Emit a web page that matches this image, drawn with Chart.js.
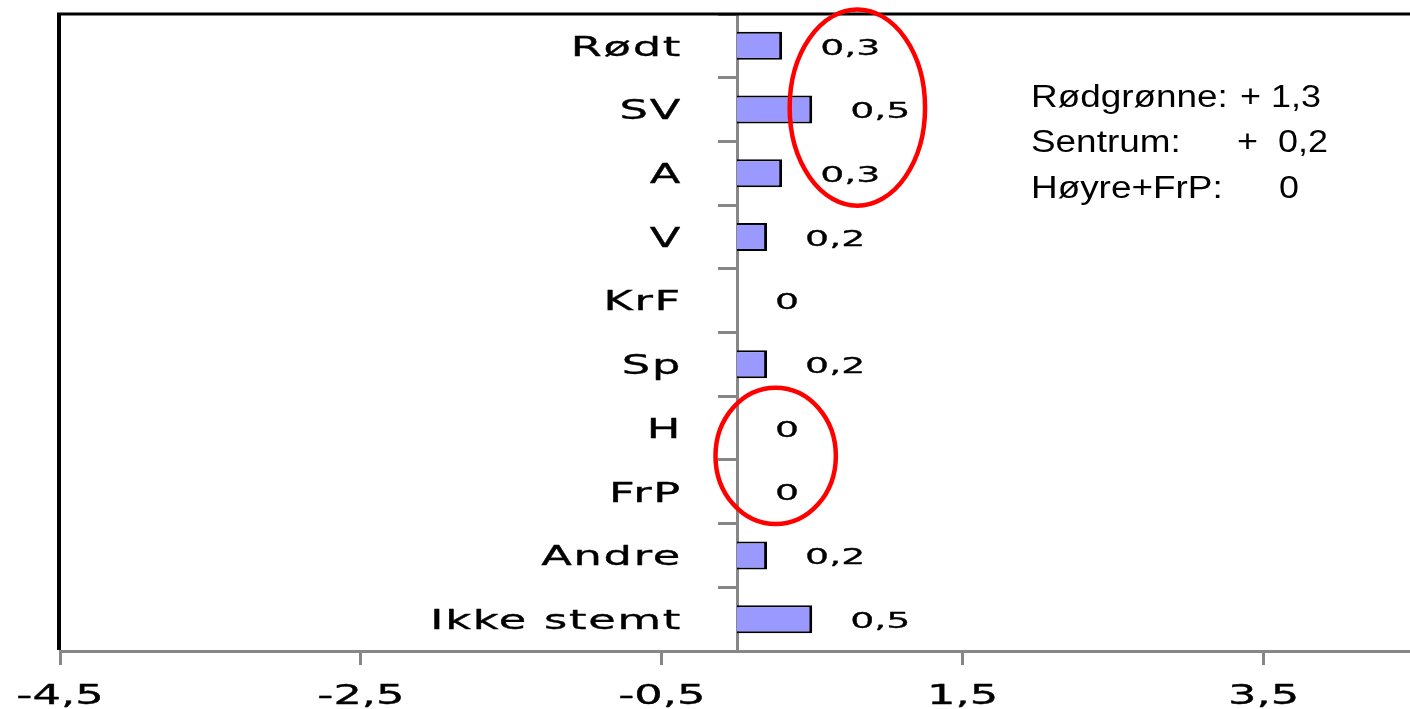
<!DOCTYPE html>
<html><head><meta charset="utf-8">
<script src="https://cdn.jsdelivr.net/npm/chart.js@4/dist/chart.umd.min.js"></script>
<style>html,body{margin:0;padding:0;background:#fff;overflow:hidden;}#wrap{position:relative;width:1416px;height:709px;}</style>
</head><body><div id="wrap"><canvas id="c"></canvas></div>
<script>
const categories = ['Rødt', 'SV', 'A', 'V', 'KrF', 'Sp', 'H', 'FrP', 'Andre', 'Ikke stemt'];
const values = [0.3, 0.5, 0.3, 0.2, 0, 0.2, 0, 0, 0.2, 0.5];
const xTicks = [-4.5, -2.5, -0.5, 1.5, 3.5];
const xMin = -4.5;
const xMax = 4.5;
const noteLabels = ['Rødgrønne:', 'Sentrum:', 'Høyre+FrP:'];
const noteValues = ['+ 1,3', '+  0,2', '0'];

const fmt = v => String(v).replace('.', ',');
const WIDE = '"DejaVu Sans", Verdana, sans-serif';
const GRAY = '#878787';

function stretchText(ctx, text, x, y, align, sx, font, baseline, spacing, weight) {
  ctx.save();
  ctx.translate(x, y);
  ctx.scale(sx, 1);
  ctx.font = font;
  ctx.textAlign = align;
  ctx.textBaseline = baseline || 'middle';
  ctx.fillStyle = '#000';
  if (spacing) ctx.letterSpacing = spacing + 'px';
  ctx.fillText(text, 0, 0);
  if (weight) {
    ctx.strokeStyle = '#000';
    ctx.lineWidth = weight;
    ctx.lineJoin = 'round';
    ctx.strokeText(text, 0, 0);
  }
  ctx.restore();
}

const decor = {
  id: 'decor',
  afterDraw(chart) {
    const {ctx, chartArea: a, scales: {x, y}} = chart;
    const zero = x.getPixelForValue(0);
    ctx.save();
    ctx.strokeStyle = '#000';
    ctx.lineWidth = 4;
    ctx.beginPath(); ctx.moveTo(a.left - 1, a.top - 1); ctx.lineTo(a.left - 1, a.bottom - 1); ctx.stroke();
    ctx.lineWidth = 3;
    ctx.beginPath(); ctx.moveTo(a.left - 3, a.top); ctx.lineTo(a.right, a.top); ctx.stroke();
    ctx.restore();

    categories.forEach((c, i) => {
      stretchText(ctx, c, zero - 55, y.getPixelForValue(i) + 3, 'right', 1.72, '26px ' + WIDE, 'middle', 1, 0.35);
    });
    xTicks.forEach(v => {
      stretchText(ctx, fmt(v), x.getPixelForValue(v), a.bottom + 46, 'center', 1.72, '26px ' + WIDE, 'middle', 0, 0.35);
    });
    values.forEach((v, i) => {
      stretchText(ctx, fmt(v), x.getPixelForValue(v) + 38, y.getPixelForValue(i) + 3, 'left', 1.72, '22px ' + WIDE, 'middle', 0, 0.3);
    });

    const band = y.getPixelForValue(1) - y.getPixelForValue(0);
    const unit = x.getPixelForValue(1) - zero;
    ctx.save();
    ctx.strokeStyle = '#FF0000';
    ctx.lineWidth = 4.5;
    ctx.beginPath();
    ctx.ellipse(x.getPixelForValue(0.8), y.getPixelForValue(1) - 2, 0.45 * unit, 1.54 * band, 0, 0, Math.PI * 2);
    ctx.stroke();
    ctx.beginPath();
    ctx.ellipse(x.getPixelForValue(0.257), (y.getPixelForValue(6) + y.getPixelForValue(7)) / 2 - 4, 0.4 * unit, 1.07 * band, 0, 0, Math.PI * 2);
    ctx.stroke();
    ctx.restore();

    const noteFont = '31px "Liberation Sans", Arial, sans-serif';
    const baseY = [107, 152, 198];
    const valX = [1240, 1237, 1279];
    noteLabels.forEach((t, i) => {
      stretchText(ctx, t, 1031, baseY[i], 'left', 1.19, noteFont, 'alphabetic');
      stretchText(ctx, noteValues[i], valX[i], baseY[i], 'left', 1.16, noteFont, 'alphabetic');
    });
  }
};

new Chart(document.getElementById('c'), {
  type: 'bar',
  data: {
    labels: categories,
    datasets: [{
      data: values,
      backgroundColor: '#9999FF',
      borderColor: '#000000',
      borderWidth: {top: 2, right: 3, bottom: 2, left: 0},
      borderSkipped: false,
      barPercentage: 0.44,
      categoryPercentage: 1
    }]
  },
  options: {
    indexAxis: 'y',
    responsive: true,
    maintainAspectRatio: false,
    animation: false,
    layout: {padding: {left: 60, right: 2, top: 14, bottom: 44}},
    plugins: {legend: {display: false}, tooltip: {enabled: false}},
    scales: {
      x: {
        type: 'linear',
        min: xMin,
        max: xMax,
        afterBuildTicks: s => { s.ticks = xTicks.map(v => ({value: v})); },
        grid: {drawOnChartArea: false, tickLength: 14, tickWidth: 3, tickColor: GRAY},
        border: {color: GRAY, width: 3},
        ticks: {display: false}
      },
      y: {
        type: 'category',
        position: {x: 0},
        offset: true,
        grid: {offset: true, drawOnChartArea: false, tickLength: 18, tickWidth: 3, tickColor: GRAY},
        border: {color: GRAY, width: 3},
        ticks: {display: false}
      }
    }
  },
  plugins: [decor]
});
</script>
</body></html>
